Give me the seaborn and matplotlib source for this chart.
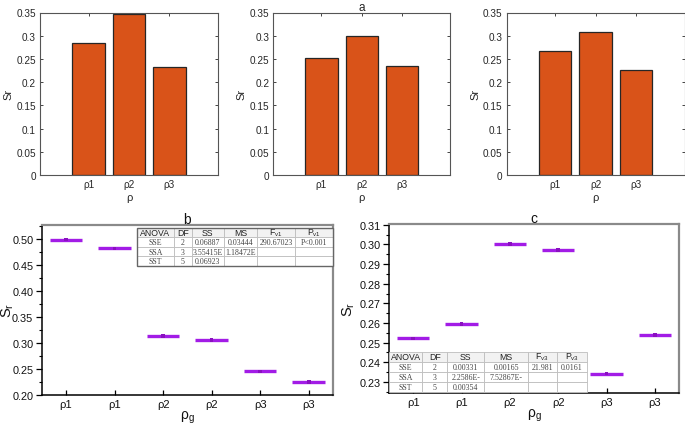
import matplotlib
matplotlib.use("Agg")
import matplotlib.pyplot as plt
import seaborn as sns
import numpy as np
import pandas as pd
from matplotlib.ticker import FuncFormatter, MultipleLocator
from matplotlib.patches import Rectangle

sns.set_theme(style="white")
plt.rcParams['font.family'] = ['Liberation Sans', 'DejaVu Sans']
plt.rcParams['mathtext.fontset'] = 'custom'
plt.rcParams['mathtext.rm'] = 'Liberation Sans'
plt.rcParams['mathtext.it'] = 'Liberation Sans'

# ---------------- data ----------------
bar_cats = ["ρ1", "ρ2", "ρ3"]
bar_left = [0.285, 0.346, 0.232]
bar_mid = [0.252, 0.300, 0.234]
bar_right = [0.267, 0.307, 0.226]
bar_titles = ["", "a", ""]

grp_labels = ["ρ1", "ρ1", "ρ2", "ρ2", "ρ3", "ρ3"]
b_values = [0.499, 0.482, 0.313, 0.306, 0.245, 0.225]
c_values = [0.2522, 0.2594, 0.3003, 0.2973, 0.2343, 0.2540]

tab_header_b = ["ANOVA", "DF", "SS", "MS", r"F$_{\rm v1}$", r"P$_{\rm v1}$"]
tab_rows_b = [["SSE", "2", "0.06887", "0.03444", "290.67023", "P<0.001"],
              ["SSA", "3", "3.55415E", "1.18472E", "", ""],
              ["SST", "5", "0.06923", "", "", ""]]
tab_header_c = ["ANOVA", "DF", "SS", "MS", r"F$_{\rm v3}$", r"P$_{\rm v3}$"]
tab_rows_c = [["SSE", "2", "0.00331", "0.00165", "21.981", "0.0161"],
              ["SSA", "3", "2.2586E-", "7.52867E-", "", ""],
              ["SST", "5", "0.00354", "", "", ""]]

W, H = 685, 427
fig = plt.figure(figsize=(W / 100, H / 100), dpi=100)

def rect(l, r, t, b):
    return [l / W, (H - b) / H, (r - l) / W, (b - t) / H]

BAR_COLOR = "#D95319"
SPINE_TOP = "#555555"

# ---------------- top bar panels ----------------
top_rects = [rect(40, 218, 13.5, 176), rect(273.3, 450, 13.5, 176), rect(506.7, 684.5, 13.5, 176)]
for r, vals, ttl in zip(top_rects, [bar_left, bar_mid, bar_right], bar_titles):
    ax = fig.add_axes(r)
    df = pd.DataFrame({"rho": bar_cats, "Sr": vals})
    sns.barplot(data=df, x="rho", y="Sr", ax=ax, color=BAR_COLOR, saturation=1,
                width=0.8, edgecolor="#262626", linewidth=0.9)
    ax.set_xlim(-1.2, 3.2)
    ax.set_ylim(0, 0.35)
    ax.yaxis.set_major_locator(MultipleLocator(0.05))
    ax.yaxis.set_major_formatter(FuncFormatter(lambda v, p: f"{v:g}"))
    for s in ax.spines.values():
        s.set_visible(True)
        s.set_color(SPINE_TOP)
        s.set_linewidth(0.8)
    ax.tick_params(direction="in", length=2.5, width=0.6, color="#262626",
                   top=True, right=True, bottom=True, left=True,
                   labelsize=7.2, labelcolor="#262626", pad=3)
    ax.set_xlabel("ρ", fontsize=8, color="#262626", labelpad=2)
    ax.set_ylabel("Sr", fontsize=8, color="#262626", labelpad=2)
    if ttl:
        ax.set_title(ttl, fontsize=8.5, color="#262626", pad=1.5)

# ---------------- bottom panels ----------------
LINE_COLOR = "#A21CE6"

def bottom_panel(r, values, ylim, yfmt, major, minor, title, header, rows, tbbox, colw, border, ylab_x):
    ax = fig.add_axes(r)
    pos = np.arange(len(values))
    ax.hlines(values, pos - 0.335, pos + 0.335, color=LINE_COLOR, lw=2.4, zorder=3)
    sns.scatterplot(x=pos, y=values, ax=ax, marker="s", s=7, color="#8A10C0",
                    edgecolor="none", zorder=4, legend=False)
    ax.set_xlim(-0.5, 5.5)
    ax.set_ylim(*ylim)
    ax.set_xticks(pos)
    ax.set_xticklabels(grp_labels)
    ax.yaxis.set_major_locator(MultipleLocator(major))
    ax.yaxis.set_minor_locator(MultipleLocator(minor))
    ax.yaxis.set_major_formatter(FuncFormatter(lambda v, p: yfmt % v))
    ax.spines["left"].set_color("black")
    ax.spines["bottom"].set_color("black")
    ax.spines["left"].set_linewidth(1.1)
    ax.spines["bottom"].set_linewidth(1.1)
    for k in ["top", "right"]:
        ax.spines[k].set_visible(True)
        ax.spines[k].set_color("#8a8a8a")
        ax.spines[k].set_linewidth(1.6)
    ax.tick_params(axis="y", which="major", direction="out", length=4, width=0.9,
                   color="black", left=True, labelsize=7.8, labelcolor="#111111", pad=2)
    ax.tick_params(axis="y", which="minor", direction="out", length=2.5, width=0.8,
                   color="black", left=True)
    ax.tick_params(axis="x", which="major", direction="in", length=3.5, width=0.9,
                   color="black", bottom=True, labelsize=8, labelcolor="#111111", pad=3)
    ax.set_xlabel(r"ρ$_{\rm g}$", fontsize=10, color="#111111", labelpad=0)
    ax.set_ylabel(r"S$_{\rm r}$", fontsize=10.5, color="#111111")
    ax.yaxis.set_label_coords(ylab_x, 0.5)
    ax.set_title(title, fontsize=10, color="#111111", pad=1.5)

    cell_text = [header] + rows
    tb = ax.table(cellText=cell_text, bbox=tbbox, colWidths=colw, cellLoc="center")
    tb.auto_set_font_size(False)
    for (i, j), cell in tb.get_celld().items():
        cell.set_edgecolor("#bdbdbd")
        cell.set_linewidth(0.6)
        cell.PAD = 0.02
        t = cell.get_text()
        if i == 0:
            cell.set_facecolor("#f2f2f2")
            t.set_fontsize(6.3)
            t.set_color("#222222")
        else:
            cell.set_facecolor("white")
            t.set_fontsize(5.7)
            t.set_family(["Liberation Serif", "DejaVu Serif"])
            t.set_color("#444444")
    tb.set_zorder(5)
    if border:
        ax.add_patch(Rectangle((tbbox[0], tbbox[1]), tbbox[2], tbbox[3], transform=ax.transAxes,
                               fill=False, edgecolor="#666666", lw=1.0, zorder=6, clip_on=False))
    return ax

colw_b = [37.6, 17.4, 32.3, 33.3, 38.4, 37.6]
colw_b = [c / sum(colw_b) for c in colw_b]
axb = bottom_panel(rect(41.7, 333, 225.7, 395.7), b_values, (0.2, 0.5276), "%.2f",
                   0.05, 0.025, "b", tab_header_b, tab_rows_b,
                   [0.326, 0.759, 0.674, 0.222], colw_b, True, -0.088)

colw_c = [33.3, 25, 37, 43.4, 29, 30.6]
colw_c = [c / sum(colw_c) for c in colw_c]
axc = bottom_panel(rect(389, 679, 225.3, 394), c_values, (0.2244, 0.3102), "%.2f",
                   0.01, 0.005, "c", tab_header_c, tab_rows_c,
                   [0.0, 0.008, 0.684, 0.237], colw_c, False, -0.11)

fig.savefig("out.png", dpi=100)
